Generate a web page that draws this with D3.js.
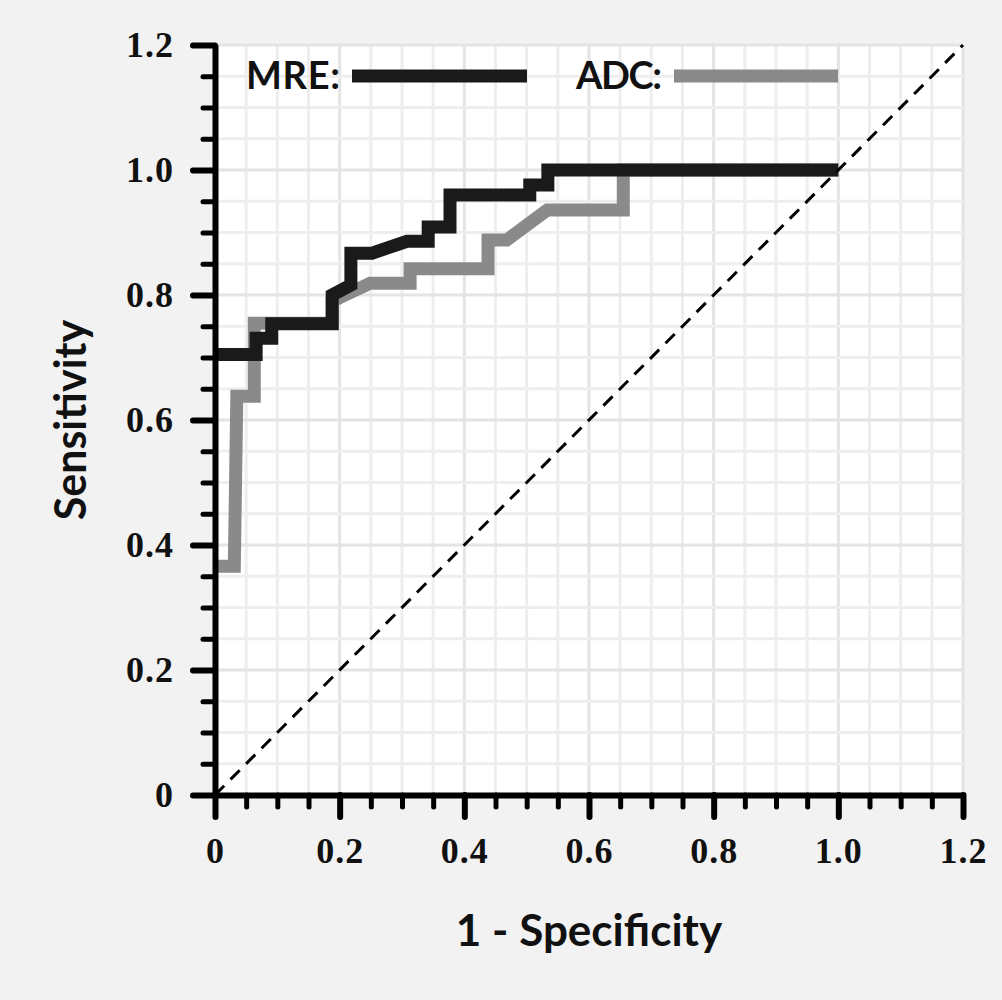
<!DOCTYPE html>
<html>
<head>
<meta charset="utf-8">
<script src="https://cdn.jsdelivr.net/npm/d3@7"></script>
<style>
  html, body { margin: 0; padding: 0; background: #f2f2f2; }
  svg { display: block; }
  .tick-label { font-family: "Liberation Serif", "Times New Roman", serif; font-weight: bold; font-size: 36px; letter-spacing: 1px; fill: #111; }
  .title { font-family: Lato, "Noto Sans", sans-serif; font-weight: bold; fill: #111; }
</style>
</head>
<body>
<svg id="chart" width="1002" height="1000"></svg>
<script>
// ROC curves, MRE vs ADC
const tickValues = [0, 0.2, 0.4, 0.6, 0.8, 1.0, 1.2];
const tickLabels = ['0', '0.2', '0.4', '0.6', '0.8', '1.0', '1.2'];
const minorValues = [0.05, 0.1, 0.15, 0.25, 0.3, 0.35, 0.45, 0.5, 0.55, 0.65, 0.7, 0.75,
                     0.85, 0.9, 0.95, 1.05, 1.1, 1.15];

const mreFpr = [0, 0.066, 0.066, 0.091, 0.091, 0.188, 0.188, 0.218, 0.218, 0.252, 0.308, 0.342,
                0.342, 0.377, 0.377, 0.505, 0.505, 0.534, 0.534, 1.0];
const mreTpr = [0.705, 0.705, 0.731, 0.731, 0.754, 0.754, 0.800, 0.816, 0.867, 0.867, 0.886, 0.886,
                0.909, 0.909, 0.960, 0.960, 0.976, 0.976, 1.0, 1.0];

const adcFpr = [0, 0.031, 0.035, 0.063, 0.063, 0.188, 0.188, 0.249, 0.313, 0.313, 0.438, 0.438,
                0.468, 0.533, 0.655, 0.655, 1.0];
const adcTpr = [0.366, 0.366, 0.638, 0.638, 0.755, 0.755, 0.790, 0.819, 0.819, 0.842, 0.842, 0.888,
                0.888, 0.936, 0.936, 1.0, 1.0];

const series = [
    { name: 'ADC:', fpr: adcFpr, tpr: adcTpr, color: '#8a8a8a' },
    { name: 'MRE:', fpr: mreFpr, tpr: mreTpr, color: '#1a1a1a' }
];

const svg = d3.select('#chart');

const x = d3.scaleLinear().domain([0, 1.2]).range([215, 963]);
const y = d3.scaleLinear().domain([0, 1.2]).range([795, 45]);

// plot background + grid
svg.append('rect')
    .attr('x', x(0)).attr('y', y(1.2))
    .attr('width', x(1.2) - x(0)).attr('height', y(0) - y(1.2))
    .attr('fill', '#fff');

const gridVals = d3.range(1, 25).map(i => i * 0.05);
const isMajor = v => Math.abs(v / 0.2 - Math.round(v / 0.2)) < 1e-6;

const grid = svg.append('g').attr('class', 'grid');
grid.selectAll('line.gx')
    .data(gridVals)
    .join('line')
    .attr('class', 'gx')
    .attr('x1', d => x(d)).attr('x2', d => x(d))
    .attr('y1', y(0)).attr('y2', y(1.2))
    .attr('stroke', d => isMajor(d) ? '#e4e4e4' : '#eeeeee')
    .attr('stroke-width', 3);
grid.selectAll('line.gy')
    .data(gridVals)
    .join('line')
    .attr('class', 'gy')
    .attr('x1', x(0)).attr('x2', x(1.2))
    .attr('y1', d => y(d)).attr('y2', d => y(d))
    .attr('stroke', d => isMajor(d) ? '#e4e4e4' : '#eeeeee')
    .attr('stroke-width', 3);

// curves
const line = d3.line().x(d => x(d[0])).y(d => y(d[1]));

svg.append('g').selectAll('path')
    .data(series)
    .join('path')
    .attr('d', s => line(d3.zip(s.fpr, s.tpr)))
    .attr('fill', 'none')
    .attr('stroke', s => s.color)
    .attr('stroke-width', 13)
    .attr('stroke-linejoin', 'miter');

// chance line
svg.append('line')
    .attr('x1', x(0)).attr('y1', y(0))
    .attr('x2', x(1.2)).attr('y2', y(1.2))
    .attr('stroke', '#000')
    .attr('stroke-width', 3)
    .attr('stroke-dasharray', '13 9');

// legend
const legend = [
    { name: 'MRE:', color: '#1a1a1a', tx: 246, x1: 352, x2: 527 },
    { name: 'ADC:', color: '#8a8a8a', tx: 576, x1: 674, x2: 838 }
];
const lg = svg.append('g').selectAll('g').data(legend).join('g');
lg.append('text')
    .attr('class', 'title')
    .attr('x', d => d.tx).attr('y', 89)
    .attr('font-size', 38)
    .attr('textLength', d => d.x1 - d.tx - 12)
    .text(d => d.name);
lg.append('line')
    .attr('x1', d => d.x1).attr('x2', d => d.x2)
    .attr('y1', 76).attr('y2', 76)
    .attr('stroke', d => d.color)
    .attr('stroke-width', 13);

// axes
function styleAxis(g, width) {
    g.select('.domain').attr('stroke', '#000').attr('stroke-width', 6);
    g.selectAll('.tick line').attr('stroke', '#000').attr('stroke-width', width).attr('stroke-linecap', 'round');
}

const xMinor = svg.append('g')
    .attr('transform', `translate(0,${y(0)})`)
    .call(d3.axisBottom(x).tickValues(minorValues).tickSize(12).tickFormat(''));
xMinor.call(g => styleAxis(g, 5));
xMinor.select('.domain').remove();

const yMinor = svg.append('g')
    .attr('transform', `translate(${x(0)},0)`)
    .call(d3.axisLeft(y).tickValues(minorValues).tickSize(12).tickFormat(''));
yMinor.call(g => styleAxis(g, 5));
yMinor.select('.domain').remove();

const xAxis = svg.append('g')
    .attr('transform', `translate(0,${y(0)})`)
    .call(d3.axisBottom(x).tickValues(tickValues).tickSize(22).tickSizeOuter(0).tickPadding(20)
        .tickFormat((d, i) => tickLabels[i]));
xAxis.call(g => styleAxis(g, 6));
xAxis.selectAll('text').attr('class', 'tick-label').attr('fill', null);

const yAxis = svg.append('g')
    .attr('transform', `translate(${x(0)},0)`)
    .call(d3.axisLeft(y).tickValues(tickValues).tickSize(22).tickSizeOuter(0).tickPadding(19)
        .tickFormat((d, i) => tickLabels[i]));
yAxis.call(g => styleAxis(g, 6));
yAxis.selectAll('text').attr('class', 'tick-label').attr('fill', null);

// titles
svg.append('text')
    .attr('class', 'title')
    .attr('x', (x(0) + x(1.2)) / 2).attr('y', 946)
    .attr('text-anchor', 'middle')
    .attr('font-size', 44)
    .text('1 - Specificity');

svg.append('text')
    .attr('class', 'title')
    .attr('transform', `translate(86,${(y(0) + y(1.2)) / 2}) rotate(-90)`)
    .attr('text-anchor', 'middle')
    .attr('font-size', 43)
    .text('Sensitivity');
</script>
</body>
</html>
